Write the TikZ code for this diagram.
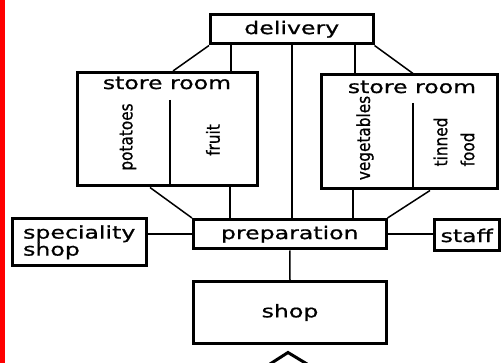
\documentclass[tikz,border=0pt]{standalone}
\usepackage{fontspec}
\setmainfont{DejaVu Sans}[FakeStretch=1.35,FakeBold=0.8]
\newfontfamily\narrowfont{DejaVu Sans}[FakeStretch=0.85,FakeBold=0.8]
\begin{document}
\begin{tikzpicture}[x=1pt,y=-1pt,
  box/.style={draw=black,line width=3pt,rectangle,inner sep=0pt,
    font=\fontsize{17.5}{17}\selectfont},
  link/.style={draw=black,line width=1.5pt},
  divider/.style={draw=black,line width=2.5pt},
  lbl/.style={inner sep=0pt,font=\fontsize{17.5}{17}\selectfont},
  vlbl/.style={inner sep=0pt,rotate=90,align=left,
    font=\narrowfont\fontsize{18}{27}\selectfont}]
\useasboundingbox (0,0) rectangle (501,363);
\fill[red] (0,0) rectangle (5,363);

% rooms
\node[box,minimum width=162.5,minimum height=29.5] (delivery) at (291.75,29.25) {delivery};
\node[box,minimum width=180,minimum height=113.5] (lstore) at (167.5,129.25) {};
\node[box,minimum width=175.5,minimum height=114] (rstore) at (409.25,132) {};
\node[box,minimum width=192.5,minimum height=29.5] (prep) at (289.75,234.25) {preparation};
\node[box,minimum width=133.5,minimum height=47.5,align=left] (spec) at (79.25,242.25) {speciality\\shop};
\node[box,minimum width=64.5,minimum height=31] (staff) at (466.75,235.5) {staff};
\node[box,minimum width=193,minimum height=62] (shop) at (290,312.5) {shop};

% labels inside the store rooms
\node[lbl] (lstoretitle) at (167,83) {store room};
\node[lbl] (rstoretitle) at (412,87) {store room};
\node[vlbl] (potatoes) at (128,137) {potatoes};
\node[vlbl] (fruit) at (213,140) {fruit};
\node[vlbl] (vegetables) at (365,138) {vegetables};
\node[vlbl] (tinned) at (454,142) {tinned\\food};

% partitions
\coordinate (ldiv) at (170,100);
\coordinate (rdiv) at (413,103);
\draw[divider] (ldiv) -- (ldiv |- lstore.south);
\draw[divider] (rdiv) -- (rdiv |- rstore.south);

% connector positions
\coordinate (xa) at (173,0);
\coordinate (xb) at (231,0);
\coordinate (xc) at (292,0);
\coordinate (xd) at (355,0);
\coordinate (xe) at (413,0);
\coordinate (xf) at (150,0);
\coordinate (xg) at (230,0);
\coordinate (xh) at (353,0);
\coordinate (xi) at (430,0);

% delivery to the store rooms and preparation
\draw[link] (delivery.south west) -- (lstore.north -| xa);
\draw[link] (delivery.south -| xb) -- (lstore.north -| xb);
\draw[link] (delivery.south -| xc) -- (prep.north -| xc);
\draw[link] (delivery.south -| xd) -- (rstore.north -| xd);
\draw[link] (delivery.south east) -- (rstore.north -| xe);

% store rooms to preparation
\draw[link] (lstore.south -| xf) -- (prep.north west);
\draw[link] (lstore.south -| xg) -- (prep.north -| xg);
\draw[link] (rstore.south -| xh) -- (prep.north -| xh);
\draw[link] (rstore.south -| xi) -- (prep.north east);

% preparation to its neighbours
\draw[link] (prep.west) -- (prep.west -| spec.east);
\draw[link] (prep.east) -- (prep.east -| staff.west);
\draw[link] (prep.south) -- (shop.north);

% entrance mark below the shop
\draw[line width=3pt] (270,364) -- (288,352.5) -- (307,364);
\end{tikzpicture}
\end{document}
